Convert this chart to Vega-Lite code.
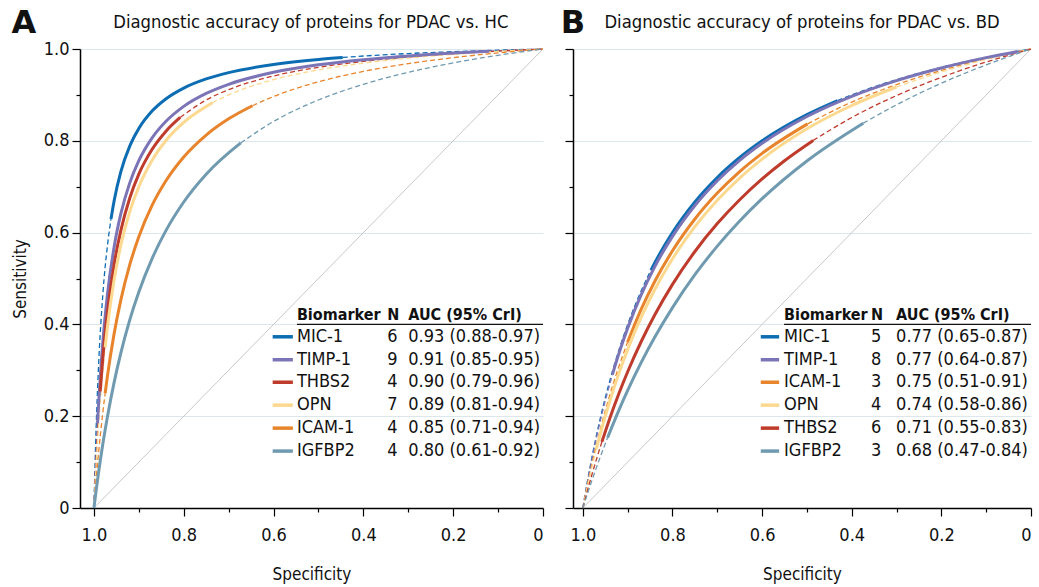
{
  "$schema": "https://vega.github.io/schema/vega-lite/v6.json",
  "padding": {"left": 11, "top": 6, "right": 5, "bottom": 2},
  "background": "white",
  "config": {
    "font": "DejaVu Sans Condensed",
    "view": {"stroke": null},
    "axis": {
      "labelFont": "DejaVu Sans Condensed", "titleFont": "DejaVu Sans Condensed",
      "labelFontSize": 18, "titleFontSize": 17, "titleFontWeight": "normal",
      "labelColor": "#111", "titleColor": "#111",
      "domainColor": "#000", "domainWidth": 1.5, "tickColor": "#000", "tickWidth": 1.2
    }
  },
  "resolve": {"scale": {"x": "independent", "y": "independent"}},
  "bounds": "flush",
  "spacing": 30,
  "datasets": {
    "diag": [{"x": 1, "y": 0}, {"x": 0, "y": 1}],
    "curves": [
      {"p":"A","b":"MIC-1","s":"d1","x":1,"y":0},{"p":"A","b":"MIC-1","s":"d1","x":0.995,"y":0.1777},{"p":"A","b":"MIC-1","s":"d1","x":0.99,"y":0.3028},{"p":"A","b":"MIC-1","s":"d1","x":0.98,"y":0.4674},{"p":"A","b":"MIC-1","s":"d1","x":0.97,"y":0.5708},{"p":"A","b":"MIC-1","s":"d1","x":0.962,"y":0.6294},
      {"p":"A","b":"MIC-1","s":"s","x":0.962,"y":0.6294},{"p":"A","b":"MIC-1","s":"s","x":0.955,"y":0.6696},{"p":"A","b":"MIC-1","s":"s","x":0.94,"y":0.733},{"p":"A","b":"MIC-1","s":"s","x":0.92,"y":0.789},{"p":"A","b":"MIC-1","s":"s","x":0.9,"y":0.8269},{"p":"A","b":"MIC-1","s":"s","x":0.87,"y":0.8653},{"p":"A","b":"MIC-1","s":"s","x":0.84,"y":0.8912},{"p":"A","b":"MIC-1","s":"s","x":0.8,"y":0.9149},{"p":"A","b":"MIC-1","s":"s","x":0.75,"y":0.9348},{"p":"A","b":"MIC-1","s":"s","x":0.7,"y":0.9485},{"p":"A","b":"MIC-1","s":"s","x":0.6,"y":0.9663},{"p":"A","b":"MIC-1","s":"s","x":0.5,"y":0.9773},{"p":"A","b":"MIC-1","s":"s","x":0.446,"y":0.9816},
      {"p":"A","b":"MIC-1","s":"d2","x":0.446,"y":0.9816},{"p":"A","b":"MIC-1","s":"d2","x":0.4,"y":0.9847},{"p":"A","b":"MIC-1","s":"d2","x":0.3,"y":0.9901},{"p":"A","b":"MIC-1","s":"d2","x":0.2,"y":0.9942},{"p":"A","b":"MIC-1","s":"d2","x":0.1,"y":0.9974},{"p":"A","b":"MIC-1","s":"d2","x":0,"y":1},

      {"p":"A","b":"TIMP-1","s":"d1","x":1,"y":0},{"p":"A","b":"TIMP-1","s":"d1","x":0.995,"y":0.1233},{"p":"A","b":"TIMP-1","s":"d1","x":0.992,"y":0.1842},
      {"p":"A","b":"TIMP-1","s":"s","x":0.992,"y":0.1842},{"p":"A","b":"TIMP-1","s":"s","x":0.99,"y":0.2205},{"p":"A","b":"TIMP-1","s":"s","x":0.98,"y":0.3636},{"p":"A","b":"TIMP-1","s":"s","x":0.97,"y":0.4641},{"p":"A","b":"TIMP-1","s":"s","x":0.955,"y":0.5688},{"p":"A","b":"TIMP-1","s":"s","x":0.94,"y":0.6412},{"p":"A","b":"TIMP-1","s":"s","x":0.92,"y":0.7089},{"p":"A","b":"TIMP-1","s":"s","x":0.9,"y":0.7568},{"p":"A","b":"TIMP-1","s":"s","x":0.87,"y":0.8071},{"p":"A","b":"TIMP-1","s":"s","x":0.84,"y":0.8421},{"p":"A","b":"TIMP-1","s":"s","x":0.8,"y":0.875},{"p":"A","b":"TIMP-1","s":"s","x":0.75,"y":0.9032},{"p":"A","b":"TIMP-1","s":"s","x":0.7,"y":0.9231},{"p":"A","b":"TIMP-1","s":"s","x":0.6,"y":0.9492},{"p":"A","b":"TIMP-1","s":"s","x":0.5,"y":0.9655},{"p":"A","b":"TIMP-1","s":"s","x":0.4,"y":0.9767},{"p":"A","b":"TIMP-1","s":"s","x":0.3,"y":0.9849},{"p":"A","b":"TIMP-1","s":"s","x":0.2,"y":0.9912},{"p":"A","b":"TIMP-1","s":"s","x":0.12,"y":0.9952},
      {"p":"A","b":"TIMP-1","s":"d2","x":0.12,"y":0.9952},{"p":"A","b":"TIMP-1","s":"d2","x":0,"y":1},

      {"p":"A","b":"THBS2","s":"d1","x":1,"y":0},{"p":"A","b":"THBS2","s":"d1","x":0.995,"y":0.1076},{"p":"A","b":"THBS2","s":"d1","x":0.99,"y":0.1951},{"p":"A","b":"THBS2","s":"d1","x":0.986,"y":0.2542},
      {"p":"A","b":"THBS2","s":"s","x":0.986,"y":0.2542},{"p":"A","b":"THBS2","s":"s","x":0.98,"y":0.3288},{"p":"A","b":"THBS2","s":"s","x":0.97,"y":0.426},{"p":"A","b":"THBS2","s":"s","x":0.955,"y":0.5307},{"p":"A","b":"THBS2","s":"s","x":0.94,"y":0.605},{"p":"A","b":"THBS2","s":"s","x":0.92,"y":0.6761},{"p":"A","b":"THBS2","s":"s","x":0.9,"y":0.7273},{"p":"A","b":"THBS2","s":"s","x":0.87,"y":0.782},{"p":"A","b":"THBS2","s":"s","x":0.84,"y":0.8205},{"p":"A","b":"THBS2","s":"s","x":0.808,"y":0.8508},
      {"p":"A","b":"THBS2","s":"d2","x":0.808,"y":0.8508},{"p":"A","b":"THBS2","s":"d2","x":0.75,"y":0.8889},{"p":"A","b":"THBS2","s":"d2","x":0.7,"y":0.9114},{"p":"A","b":"THBS2","s":"d2","x":0.6,"y":0.9412},{"p":"A","b":"THBS2","s":"d2","x":0.5,"y":0.96},{"p":"A","b":"THBS2","s":"d2","x":0.4,"y":0.973},{"p":"A","b":"THBS2","s":"d2","x":0.3,"y":0.9825},{"p":"A","b":"THBS2","s":"d2","x":0.2,"y":0.9897},{"p":"A","b":"THBS2","s":"d2","x":0.1,"y":0.9954},{"p":"A","b":"THBS2","s":"d2","x":0,"y":1},

      {"p":"A","b":"OPN","s":"d1","x":1,"y":0},{"p":"A","b":"OPN","s":"d1","x":0.995,"y":0.0955},{"p":"A","b":"OPN","s":"d1","x":0.99,"y":0.175},{"p":"A","b":"OPN","s":"d1","x":0.98,"y":0.3},{"p":"A","b":"OPN","s":"d1","x":0.975,"y":0.35},
      {"p":"A","b":"OPN","s":"s","x":0.975,"y":0.35},{"p":"A","b":"OPN","s":"s","x":0.97,"y":0.3938},{"p":"A","b":"OPN","s":"s","x":0.955,"y":0.4974},{"p":"A","b":"OPN","s":"s","x":0.94,"y":0.5727},{"p":"A","b":"OPN","s":"s","x":0.92,"y":0.6462},{"p":"A","b":"OPN","s":"s","x":0.9,"y":0.7},{"p":"A","b":"OPN","s":"s","x":0.87,"y":0.7583},{"p":"A","b":"OPN","s":"s","x":0.84,"y":0.8},{"p":"A","b":"OPN","s":"s","x":0.8,"y":0.84},{"p":"A","b":"OPN","s":"s","x":0.736,"y":0.8828},
      {"p":"A","b":"OPN","s":"d2","x":0.736,"y":0.8828},{"p":"A","b":"OPN","s":"d2","x":0.7,"y":0.9},{"p":"A","b":"OPN","s":"d2","x":0.6,"y":0.9333},{"p":"A","b":"OPN","s":"d2","x":0.5,"y":0.9545},{"p":"A","b":"OPN","s":"d2","x":0.4,"y":0.9692},{"p":"A","b":"OPN","s":"d2","x":0.3,"y":0.98},{"p":"A","b":"OPN","s":"d2","x":0.2,"y":0.9882},{"p":"A","b":"OPN","s":"d2","x":0.1,"y":0.9947},{"p":"A","b":"OPN","s":"d2","x":0,"y":1},

      {"p":"A","b":"ICAM-1","s":"d1","x":1,"y":0},{"p":"A","b":"ICAM-1","s":"d1","x":0.995,"y":0.0613},{"p":"A","b":"ICAM-1","s":"d1","x":0.99,"y":0.1161},{"p":"A","b":"ICAM-1","s":"d1","x":0.98,"y":0.2097},{"p":"A","b":"ICAM-1","s":"d1","x":0.975,"y":0.25},
      {"p":"A","b":"ICAM-1","s":"s","x":0.975,"y":0.25},{"p":"A","b":"ICAM-1","s":"s","x":0.97,"y":0.2868},{"p":"A","b":"ICAM-1","s":"s","x":0.955,"y":0.3799},{"p":"A","b":"ICAM-1","s":"s","x":0.94,"y":0.4535},{"p":"A","b":"ICAM-1","s":"s","x":0.92,"y":0.5306},{"p":"A","b":"ICAM-1","s":"s","x":0.9,"y":0.5909},{"p":"A","b":"ICAM-1","s":"s","x":0.87,"y":0.6602},{"p":"A","b":"ICAM-1","s":"s","x":0.84,"y":0.7123},{"p":"A","b":"ICAM-1","s":"s","x":0.8,"y":0.7647},{"p":"A","b":"ICAM-1","s":"s","x":0.75,"y":0.8125},{"p":"A","b":"ICAM-1","s":"s","x":0.7,"y":0.8478},{"p":"A","b":"ICAM-1","s":"s","x":0.647,"y":0.8764},
      {"p":"A","b":"ICAM-1","s":"d2","x":0.647,"y":0.8764},{"p":"A","b":"ICAM-1","s":"d2","x":0.6,"y":0.8966},{"p":"A","b":"ICAM-1","s":"d2","x":0.5,"y":0.9286},{"p":"A","b":"ICAM-1","s":"d2","x":0.4,"y":0.9512},{"p":"A","b":"ICAM-1","s":"d2","x":0.3,"y":0.9681},{"p":"A","b":"ICAM-1","s":"d2","x":0.2,"y":0.9811},{"p":"A","b":"ICAM-1","s":"d2","x":0.1,"y":0.9915},{"p":"A","b":"ICAM-1","s":"d2","x":0,"y":1},

      {"p":"A","b":"IGFBP2","s":"s","x":1,"y":0},{"p":"A","b":"IGFBP2","s":"s","x":0.995,"y":0.0386},{"p":"A","b":"IGFBP2","s":"s","x":0.99,"y":0.0748},{"p":"A","b":"IGFBP2","s":"s","x":0.98,"y":0.1404},{"p":"A","b":"IGFBP2","s":"s","x":0.97,"y":0.1983},{"p":"A","b":"IGFBP2","s":"s","x":0.955,"y":0.2738},{"p":"A","b":"IGFBP2","s":"s","x":0.94,"y":0.338},{"p":"A","b":"IGFBP2","s":"s","x":0.92,"y":0.4103},{"p":"A","b":"IGFBP2","s":"s","x":0.9,"y":0.4706},{"p":"A","b":"IGFBP2","s":"s","x":0.87,"y":0.5445},{"p":"A","b":"IGFBP2","s":"s","x":0.84,"y":0.6038},{"p":"A","b":"IGFBP2","s":"s","x":0.8,"y":0.6667},{"p":"A","b":"IGFBP2","s":"s","x":0.75,"y":0.7273},{"p":"A","b":"IGFBP2","s":"s","x":0.673,"y":0.7954},
      {"p":"A","b":"IGFBP2","s":"d2","x":0.673,"y":0.7954},{"p":"A","b":"IGFBP2","s":"d2","x":0.6,"y":0.8421},{"p":"A","b":"IGFBP2","s":"d2","x":0.5,"y":0.8889},{"p":"A","b":"IGFBP2","s":"d2","x":0.4,"y":0.9231},{"p":"A","b":"IGFBP2","s":"d2","x":0.3,"y":0.9492},{"p":"A","b":"IGFBP2","s":"d2","x":0.2,"y":0.9697},{"p":"A","b":"IGFBP2","s":"d2","x":0.1,"y":0.9863},{"p":"A","b":"IGFBP2","s":"d2","x":0,"y":1},

      {"p":"B","b":"MIC-1","s":"d1","x":1,"y":0},{"p":"B","b":"MIC-1","s":"d1","x":0.99,"y":0.0571},{"p":"B","b":"MIC-1","s":"d1","x":0.98,"y":0.1091},{"p":"B","b":"MIC-1","s":"d1","x":0.96,"y":0.2},{"p":"B","b":"MIC-1","s":"d1","x":0.94,"y":0.2769},{"p":"B","b":"MIC-1","s":"d1","x":0.92,"y":0.3429},{"p":"B","b":"MIC-1","s":"d1","x":0.9,"y":0.4},{"p":"B","b":"MIC-1","s":"d1","x":0.87,"y":0.4727},{"p":"B","b":"MIC-1","s":"d1","x":0.848,"y":0.5182},
      {"p":"B","b":"MIC-1","s":"s","x":0.848,"y":0.5182},{"p":"B","b":"MIC-1","s":"s","x":0.84,"y":0.5333},{"p":"B","b":"MIC-1","s":"s","x":0.8,"y":0.6},{"p":"B","b":"MIC-1","s":"s","x":0.75,"y":0.6667},{"p":"B","b":"MIC-1","s":"s","x":0.7,"y":0.72},{"p":"B","b":"MIC-1","s":"s","x":0.65,"y":0.7636},{"p":"B","b":"MIC-1","s":"s","x":0.6,"y":0.8},{"p":"B","b":"MIC-1","s":"s","x":0.5,"y":0.8571},{"p":"B","b":"MIC-1","s":"s","x":0.4315,"y":0.8877},
      {"p":"B","b":"MIC-1","s":"d2","x":0.4315,"y":0.8877},{"p":"B","b":"MIC-1","s":"d2","x":0.4,"y":0.9},{"p":"B","b":"MIC-1","s":"d2","x":0.3,"y":0.9333},{"p":"B","b":"MIC-1","s":"d2","x":0.2,"y":0.96},{"p":"B","b":"MIC-1","s":"d2","x":0.1,"y":0.9818},{"p":"B","b":"MIC-1","s":"d2","x":0,"y":1},

      {"p":"B","b":"TIMP-1","s":"d1","x":1,"y":0},{"p":"B","b":"TIMP-1","s":"d1","x":0.99,"y":0.0553},{"p":"B","b":"TIMP-1","s":"d1","x":0.98,"y":0.1058},{"p":"B","b":"TIMP-1","s":"d1","x":0.96,"y":0.1946},{"p":"B","b":"TIMP-1","s":"d1","x":0.934,"y":0.2907},
      {"p":"B","b":"TIMP-1","s":"s","x":0.934,"y":0.2907},{"p":"B","b":"TIMP-1","s":"s","x":0.92,"y":0.3353},{"p":"B","b":"TIMP-1","s":"s","x":0.9,"y":0.3919},{"p":"B","b":"TIMP-1","s":"s","x":0.87,"y":0.4643},{"p":"B","b":"TIMP-1","s":"s","x":0.84,"y":0.5249},{"p":"B","b":"TIMP-1","s":"s","x":0.8,"y":0.5918},{"p":"B","b":"TIMP-1","s":"s","x":0.75,"y":0.6591},{"p":"B","b":"TIMP-1","s":"s","x":0.7,"y":0.7131},{"p":"B","b":"TIMP-1","s":"s","x":0.65,"y":0.7575},{"p":"B","b":"TIMP-1","s":"s","x":0.6,"y":0.7945},{"p":"B","b":"TIMP-1","s":"s","x":0.5,"y":0.8529},{"p":"B","b":"TIMP-1","s":"s","x":0.4,"y":0.8969},{"p":"B","b":"TIMP-1","s":"s","x":0.3,"y":0.9312},{"p":"B","b":"TIMP-1","s":"s","x":0.2,"y":0.9587},{"p":"B","b":"TIMP-1","s":"s","x":0.1,"y":0.9812},{"p":"B","b":"TIMP-1","s":"s","x":0.03,"y":0.9947},
      {"p":"B","b":"TIMP-1","s":"d2","x":0.03,"y":0.9947},{"p":"B","b":"TIMP-1","s":"d2","x":0,"y":1},

      {"p":"B","b":"ICAM-1","s":"d1","x":1,"y":0},{"p":"B","b":"ICAM-1","s":"d1","x":0.99,"y":0.049},{"p":"B","b":"ICAM-1","s":"d1","x":0.98,"y":0.0943},{"p":"B","b":"ICAM-1","s":"d1","x":0.96,"y":0.1753},{"p":"B","b":"ICAM-1","s":"d1","x":0.94,"y":0.2456},{"p":"B","b":"ICAM-1","s":"d1","x":0.92,"y":0.3072},{"p":"B","b":"ICAM-1","s":"d1","x":0.9003,"y":0.3609},
      {"p":"B","b":"ICAM-1","s":"s","x":0.9003,"y":0.3609},{"p":"B","b":"ICAM-1","s":"s","x":0.87,"y":0.4325},{"p":"B","b":"ICAM-1","s":"s","x":0.84,"y":0.4928},{"p":"B","b":"ICAM-1","s":"s","x":0.8,"y":0.5604},{"p":"B","b":"ICAM-1","s":"s","x":0.75,"y":0.6296},{"p":"B","b":"ICAM-1","s":"s","x":0.7,"y":0.6861},{"p":"B","b":"ICAM-1","s":"s","x":0.65,"y":0.7331},{"p":"B","b":"ICAM-1","s":"s","x":0.6,"y":0.7727},{"p":"B","b":"ICAM-1","s":"s","x":0.4985,"y":0.8369},
      {"p":"B","b":"ICAM-1","s":"d2","x":0.4985,"y":0.8369},{"p":"B","b":"ICAM-1","s":"d2","x":0.4,"y":0.8844},{"p":"B","b":"ICAM-1","s":"d2","x":0.3,"y":0.9225},{"p":"B","b":"ICAM-1","s":"d2","x":0.2,"y":0.9533},{"p":"B","b":"ICAM-1","s":"d2","x":0.1,"y":0.9787},{"p":"B","b":"ICAM-1","s":"d2","x":0,"y":1},

      {"p":"B","b":"OPN","s":"d1","x":1,"y":0},{"p":"B","b":"OPN","s":"d1","x":0.99,"y":0.0458},{"p":"B","b":"OPN","s":"d1","x":0.98,"y":0.0884},{"p":"B","b":"OPN","s":"d1","x":0.97,"y":0.1281},
      {"p":"B","b":"OPN","s":"s","x":0.97,"y":0.1281},{"p":"B","b":"OPN","s":"s","x":0.96,"y":0.1652},{"p":"B","b":"OPN","s":"s","x":0.94,"y":0.2327},{"p":"B","b":"OPN","s":"s","x":0.92,"y":0.2923},{"p":"B","b":"OPN","s":"s","x":0.9,"y":0.3455},{"p":"B","b":"OPN","s":"s","x":0.87,"y":0.4151},{"p":"B","b":"OPN","s":"s","x":0.84,"y":0.475},{"p":"B","b":"OPN","s":"s","x":0.8,"y":0.5429},{"p":"B","b":"OPN","s":"s","x":0.75,"y":0.6129},{"p":"B","b":"OPN","s":"s","x":0.7,"y":0.6706},{"p":"B","b":"OPN","s":"s","x":0.65,"y":0.7189},{"p":"B","b":"OPN","s":"s","x":0.6,"y":0.76},{"p":"B","b":"OPN","s":"s","x":0.5,"y":0.8261},{"p":"B","b":"OPN","s":"s","x":0.4,"y":0.8769},{"p":"B","b":"OPN","s":"s","x":0.3,"y":0.9172},
      {"p":"B","b":"OPN","s":"d2","x":0.3,"y":0.9172},{"p":"B","b":"OPN","s":"d2","x":0.2,"y":0.95},{"p":"B","b":"OPN","s":"d2","x":0.1,"y":0.9771},{"p":"B","b":"OPN","s":"d2","x":0,"y":1},

      {"p":"B","b":"THBS2","s":"d1","x":1,"y":0},{"p":"B","b":"THBS2","s":"d1","x":0.99,"y":0.037},{"p":"B","b":"THBS2","s":"d1","x":0.98,"y":0.072},{"p":"B","b":"THBS2","s":"d1","x":0.9576,"y":0.144},
      {"p":"B","b":"THBS2","s":"s","x":0.9576,"y":0.144},{"p":"B","b":"THBS2","s":"s","x":0.94,"y":0.1952},{"p":"B","b":"THBS2","s":"s","x":0.92,"y":0.2484},{"p":"B","b":"THBS2","s":"s","x":0.9,"y":0.2969},{"p":"B","b":"THBS2","s":"s","x":0.87,"y":0.3622},{"p":"B","b":"THBS2","s":"s","x":0.84,"y":0.4199},{"p":"B","b":"THBS2","s":"s","x":0.8,"y":0.4872},{"p":"B","b":"THBS2","s":"s","x":0.75,"y":0.5588},{"p":"B","b":"THBS2","s":"s","x":0.7,"y":0.6196},{"p":"B","b":"THBS2","s":"s","x":0.65,"y":0.6717},{"p":"B","b":"THBS2","s":"s","x":0.6,"y":0.717},{"p":"B","b":"THBS2","s":"s","x":0.55,"y":0.7566},{"p":"B","b":"THBS2","s":"s","x":0.486,"y":0.8008},
      {"p":"B","b":"THBS2","s":"d2","x":0.486,"y":0.8008},{"p":"B","b":"THBS2","s":"d2","x":0.4,"y":0.8507},{"p":"B","b":"THBS2","s":"d2","x":0.3,"y":0.8986},{"p":"B","b":"THBS2","s":"d2","x":0.2,"y":0.9383},{"p":"B","b":"THBS2","s":"d2","x":0.1,"y":0.9716},{"p":"B","b":"THBS2","s":"d2","x":0,"y":1},

      {"p":"B","b":"IGFBP2","s":"d1","x":1,"y":0},{"p":"B","b":"IGFBP2","s":"d1","x":0.99,"y":0.0304},{"p":"B","b":"IGFBP2","s":"d1","x":0.98,"y":0.0595},{"p":"B","b":"IGFBP2","s":"d1","x":0.96,"y":0.1144},{"p":"B","b":"IGFBP2","s":"d1","x":0.9449,"y":0.1531},
      {"p":"B","b":"IGFBP2","s":"s","x":0.9449,"y":0.1531},{"p":"B","b":"IGFBP2","s":"s","x":0.92,"y":0.2123},{"p":"B","b":"IGFBP2","s":"s","x":0.9,"y":0.2562},{"p":"B","b":"IGFBP2","s":"s","x":0.87,"y":0.3166},{"p":"B","b":"IGFBP2","s":"s","x":0.84,"y":0.3713},{"p":"B","b":"IGFBP2","s":"s","x":0.8,"y":0.4366},{"p":"B","b":"IGFBP2","s":"s","x":0.75,"y":0.5082},{"p":"B","b":"IGFBP2","s":"s","x":0.7,"y":0.5706},{"p":"B","b":"IGFBP2","s":"s","x":0.65,"y":0.6254},{"p":"B","b":"IGFBP2","s":"s","x":0.6,"y":0.6739},{"p":"B","b":"IGFBP2","s":"s","x":0.5,"y":0.7561},{"p":"B","b":"IGFBP2","s":"s","x":0.3743,"y":0.8383},
      {"p":"B","b":"IGFBP2","s":"d2","x":0.3743,"y":0.8383},{"p":"B","b":"IGFBP2","s":"d2","x":0.3,"y":0.8785},{"p":"B","b":"IGFBP2","s":"d2","x":0.2,"y":0.9254},{"p":"B","b":"IGFBP2","s":"d2","x":0.1,"y":0.9654},{"p":"B","b":"IGFBP2","s":"d2","x":0,"y":1}
    ],
    "swatch": [
      {"p":"A","b":"MIC-1","x":0.602,"x2":0.557,"y":0.373},{"p":"A","b":"TIMP-1","x":0.602,"x2":0.557,"y":0.323},{"p":"A","b":"THBS2","x":0.602,"x2":0.557,"y":0.274},{"p":"A","b":"OPN","x":0.602,"x2":0.557,"y":0.224},{"p":"A","b":"ICAM-1","x":0.602,"x2":0.557,"y":0.174},{"p":"A","b":"IGFBP2","x":0.602,"x2":0.557,"y":0.124},
      {"p":"B","b":"MIC-1","x":0.603,"x2":0.562,"y":0.373},{"p":"B","b":"TIMP-1","x":0.603,"x2":0.562,"y":0.323},{"p":"B","b":"ICAM-1","x":0.603,"x2":0.562,"y":0.274},{"p":"B","b":"OPN","x":0.603,"x2":0.562,"y":0.224},{"p":"B","b":"THBS2","x":0.603,"x2":0.562,"y":0.174},{"p":"B","b":"IGFBP2","x":0.603,"x2":0.562,"y":0.124}
    ],
    "hrule": [
      {"p":"A","x":0.548,"x2":0,"y":0.4},
      {"p":"B","x":0.551,"x2":0,"y":0.4}
    ],
    "letters": [
      {"p":"A","t":"A","x":1.156,"y":1.057},
      {"p":"B","t":"B","x":1.022,"y":1.057}
    ],
    "titles": [
      {"p":"A","t":"Diagnostic accuracy of proteins for PDAC vs. HC","x":0.517,"y":1.057},
      {"p":"B","t":"Diagnostic accuracy of proteins for PDAC vs. BD","x":0.511,"y":1.057}
    ],
    "legend": [
      {"p":"A","k":"h","t":"Biomarker","x":0.548,"y":0.421},{"p":"A","k":"h","t":"N","x":0.347,"y":0.421},{"p":"A","k":"h","t":"AUC (95% CrI)","x":0.3,"y":0.421},
      {"p":"A","k":"r","t":"MIC-1","x":0.548,"y":0.373},{"p":"A","k":"r","t":"6","x":0.347,"y":0.373},{"p":"A","k":"r","t":"0.93 (0.88-0.97)","x":0.3,"y":0.373},
      {"p":"A","k":"r","t":"TIMP-1","x":0.548,"y":0.323},{"p":"A","k":"r","t":"9","x":0.347,"y":0.323},{"p":"A","k":"r","t":"0.91 (0.85-0.95)","x":0.3,"y":0.323},
      {"p":"A","k":"r","t":"THBS2","x":0.548,"y":0.274},{"p":"A","k":"r","t":"4","x":0.347,"y":0.274},{"p":"A","k":"r","t":"0.90 (0.79-0.96)","x":0.3,"y":0.274},
      {"p":"A","k":"r","t":"OPN","x":0.548,"y":0.224},{"p":"A","k":"r","t":"7","x":0.347,"y":0.224},{"p":"A","k":"r","t":"0.89 (0.81-0.94)","x":0.3,"y":0.224},
      {"p":"A","k":"r","t":"ICAM-1","x":0.548,"y":0.174},{"p":"A","k":"r","t":"4","x":0.347,"y":0.174},{"p":"A","k":"r","t":"0.85 (0.71-0.94)","x":0.3,"y":0.174},
      {"p":"A","k":"r","t":"IGFBP2","x":0.548,"y":0.124},{"p":"A","k":"r","t":"4","x":0.347,"y":0.124},{"p":"A","k":"r","t":"0.80 (0.61-0.92)","x":0.3,"y":0.124},
      {"p":"B","k":"h","t":"Biomarker","x":0.551,"y":0.421},{"p":"B","k":"h","t":"N","x":0.357,"y":0.421},{"p":"B","k":"h","t":"AUC (95% CrI)","x":0.301,"y":0.421},
      {"p":"B","k":"r","t":"MIC-1","x":0.551,"y":0.373},{"p":"B","k":"r","t":"5","x":0.357,"y":0.373},{"p":"B","k":"r","t":"0.77 (0.65-0.87)","x":0.301,"y":0.373},
      {"p":"B","k":"r","t":"TIMP-1","x":0.551,"y":0.323},{"p":"B","k":"r","t":"8","x":0.357,"y":0.323},{"p":"B","k":"r","t":"0.77 (0.64-0.87)","x":0.301,"y":0.323},
      {"p":"B","k":"r","t":"ICAM-1","x":0.551,"y":0.274},{"p":"B","k":"r","t":"3","x":0.357,"y":0.274},{"p":"B","k":"r","t":"0.75 (0.51-0.91)","x":0.301,"y":0.274},
      {"p":"B","k":"r","t":"OPN","x":0.551,"y":0.224},{"p":"B","k":"r","t":"4","x":0.357,"y":0.224},{"p":"B","k":"r","t":"0.74 (0.58-0.86)","x":0.301,"y":0.224},
      {"p":"B","k":"r","t":"THBS2","x":0.551,"y":0.174},{"p":"B","k":"r","t":"6","x":0.357,"y":0.174},{"p":"B","k":"r","t":"0.71 (0.55-0.83)","x":0.301,"y":0.174},
      {"p":"B","k":"r","t":"IGFBP2","x":0.551,"y":0.124},{"p":"B","k":"r","t":"3","x":0.357,"y":0.124},{"p":"B","k":"r","t":"0.68 (0.47-0.84)","x":0.301,"y":0.124}
    ]
  },
  "hconcat": [
    {
      "width": 463, "height": 459,
      "encoding": {
        "x": {"field": "x", "type": "quantitative", "scale": {"domain": [0, 1.031], "reverse": true, "nice": false, "zero": false},
          "axis": {"title": "Specificity", "values": [0,0.1,0.2,0.3,0.4,0.5,0.6,0.7,0.8,0.9,1], "grid": false,
            "labelExpr": "abs(datum.value*5-round(datum.value*5))<0.001 ? (datum.value==0 ? '0' : format(datum.value,'.1f')) : ''",
            "tickSize": {"condition": {"test": "abs(datum.value*5-round(datum.value*5))>0.01", "value": 4}, "value": 8},
            "labelPadding": 10, "titlePadding": 22}},
        "y": {"field": "y", "type": "quantitative", "scale": {"domain": [0, 1], "nice": false},
          "axis": {"title": "Sensitivity", "values": [0,0.1,0.2,0.3,0.4,0.5,0.6,0.7,0.8,0.9,1], "grid": true, "gridColor": "#dce7ed", "gridWidth": 1.2,
            "gridOpacity": {"condition": {"test": "abs(datum.value*5-round(datum.value*5))>0.01", "value": 0}, "value": 1},
            "labelExpr": "abs(datum.value*5-round(datum.value*5))<0.001 ? (datum.value==0 ? '0' : format(datum.value,'.1f')) : ''",
            "tickSize": {"condition": {"test": "abs(datum.value*5-round(datum.value*5))>0.01", "value": 4}, "value": 8},
            "labelPadding": 3, "titlePadding": 14}}
      },
      "layer": [
        {"data": {"name": "diag"}, "mark": {"type": "line", "color": "#c8c8c8", "strokeWidth": 1}},
        {"data": {"name": "curves"}, "transform": [{"filter": "datum.p=='A' && datum.s!='s'"}],
          "mark": {"type": "line", "strokeWidth": 1.3, "strokeDash": [5, 3], "interpolate": "monotone"},
          "encoding": {"color": {"field": "b", "type": "nominal", "legend": null,
            "scale": {"domain": ["MIC-1","TIMP-1","THBS2","OPN","ICAM-1","IGFBP2"], "range": ["#0c6db3","#7b74b6","#bf3b2c","#fdd98f","#e8842b","#6f9ab0"]}},
            "detail": {"field": "s"}}},
        {"data": {"name": "curves"}, "transform": [{"filter": "datum.p=='A' && datum.s=='s'"}],
          "mark": {"type": "line", "strokeWidth": 3, "interpolate": "monotone"},
          "encoding": {"color": {"field": "b", "type": "nominal", "legend": null}}},
        {"data": {"name": "swatch"}, "transform": [{"filter": "datum.p=='A'"}],
          "mark": {"type": "rule", "strokeWidth": 3.5},
          "encoding": {"x2": {"field": "x2"}, "color": {"field": "b", "type": "nominal", "legend": null}}},
        {"data": {"name": "hrule"}, "transform": [{"filter": "datum.p=='A'"}],
          "mark": {"type": "rule", "color": "#111", "strokeWidth": 1.2},
          "encoding": {"x2": {"field": "x2"}}},
        {"data": {"name": "legend"}, "transform": [{"filter": "datum.p=='A' && datum.k=='h'"}],
          "mark": {"type": "text", "align": "left", "baseline": "middle", "fontSize": 16, "fontWeight": "bold", "color": "#111"},
          "encoding": {"text": {"field": "t"}}},
        {"data": {"name": "legend"}, "transform": [{"filter": "datum.p=='A' && datum.k=='r'"}],
          "mark": {"type": "text", "align": "left", "baseline": "middle", "fontSize": 18, "color": "#111"},
          "encoding": {"text": {"field": "t"}}},
        {"data": {"name": "titles"}, "transform": [{"filter": "datum.p=='A'"}],
          "mark": {"type": "text", "align": "center", "baseline": "middle", "fontSize": 18.3, "color": "#111"},
          "encoding": {"text": {"field": "t"}}},
        {"data": {"name": "letters"}, "transform": [{"filter": "datum.p=='A'"}],
          "mark": {"type": "text", "align": "center", "baseline": "middle", "fontSize": 32, "fontWeight": "bold", "color": "#111", "font": "DejaVu Sans"},
          "encoding": {"text": {"field": "t"}}}
      ]
    },
    {
      "width": 458, "height": 459,
      "encoding": {
        "x": {"field": "x", "type": "quantitative", "scale": {"domain": [0, 1.022], "reverse": true, "nice": false, "zero": false},
          "axis": {"title": "Specificity", "values": [0,0.1,0.2,0.3,0.4,0.5,0.6,0.7,0.8,0.9,1], "grid": false,
            "labelExpr": "abs(datum.value*5-round(datum.value*5))<0.001 ? (datum.value==0 ? '0' : format(datum.value,'.1f')) : ''",
            "tickSize": {"condition": {"test": "abs(datum.value*5-round(datum.value*5))>0.01", "value": 4}, "value": 8},
            "labelPadding": 10, "titlePadding": 22}},
        "y": {"field": "y", "type": "quantitative", "scale": {"domain": [0, 1], "nice": false},
          "axis": {"title": null, "labels": false, "values": [0,0.1,0.2,0.3,0.4,0.5,0.6,0.7,0.8,0.9,1], "grid": true, "gridColor": "#dce7ed", "gridWidth": 1.2,
            "gridOpacity": {"condition": {"test": "abs(datum.value*5-round(datum.value*5))>0.01", "value": 0}, "value": 1},
            "tickSize": {"condition": {"test": "abs(datum.value*5-round(datum.value*5))>0.01", "value": 4}, "value": 8}}}
      },
      "layer": [
        {"data": {"name": "diag"}, "mark": {"type": "line", "color": "#c8c8c8", "strokeWidth": 1}},
        {"data": {"name": "curves"}, "transform": [{"filter": "datum.p=='B' && datum.s!='s'"}],
          "mark": {"type": "line", "strokeWidth": 1.3, "strokeDash": [5, 3], "interpolate": "monotone"},
          "encoding": {"color": {"field": "b", "type": "nominal", "legend": null}, "detail": {"field": "s"}}},
        {"data": {"name": "curves"}, "transform": [{"filter": "datum.p=='B' && datum.s=='s'"}],
          "mark": {"type": "line", "strokeWidth": 3, "interpolate": "monotone"},
          "encoding": {"color": {"field": "b", "type": "nominal", "legend": null}}},
        {"data": {"name": "swatch"}, "transform": [{"filter": "datum.p=='B'"}],
          "mark": {"type": "rule", "strokeWidth": 3.5},
          "encoding": {"x2": {"field": "x2"}, "color": {"field": "b", "type": "nominal", "legend": null}}},
        {"data": {"name": "hrule"}, "transform": [{"filter": "datum.p=='B'"}],
          "mark": {"type": "rule", "color": "#111", "strokeWidth": 1.2},
          "encoding": {"x2": {"field": "x2"}}},
        {"data": {"name": "legend"}, "transform": [{"filter": "datum.p=='B' && datum.k=='h'"}],
          "mark": {"type": "text", "align": "left", "baseline": "middle", "fontSize": 16, "fontWeight": "bold", "color": "#111"},
          "encoding": {"text": {"field": "t"}}},
        {"data": {"name": "legend"}, "transform": [{"filter": "datum.p=='B' && datum.k=='r'"}],
          "mark": {"type": "text", "align": "left", "baseline": "middle", "fontSize": 18, "color": "#111"},
          "encoding": {"text": {"field": "t"}}},
        {"data": {"name": "titles"}, "transform": [{"filter": "datum.p=='B'"}],
          "mark": {"type": "text", "align": "center", "baseline": "middle", "fontSize": 18.3, "color": "#111"},
          "encoding": {"text": {"field": "t"}}},
        {"data": {"name": "letters"}, "transform": [{"filter": "datum.p=='B'"}],
          "mark": {"type": "text", "align": "center", "baseline": "middle", "fontSize": 32, "fontWeight": "bold", "color": "#111", "font": "DejaVu Sans"},
          "encoding": {"text": {"field": "t"}}}
      ]
    }
  ]
}
